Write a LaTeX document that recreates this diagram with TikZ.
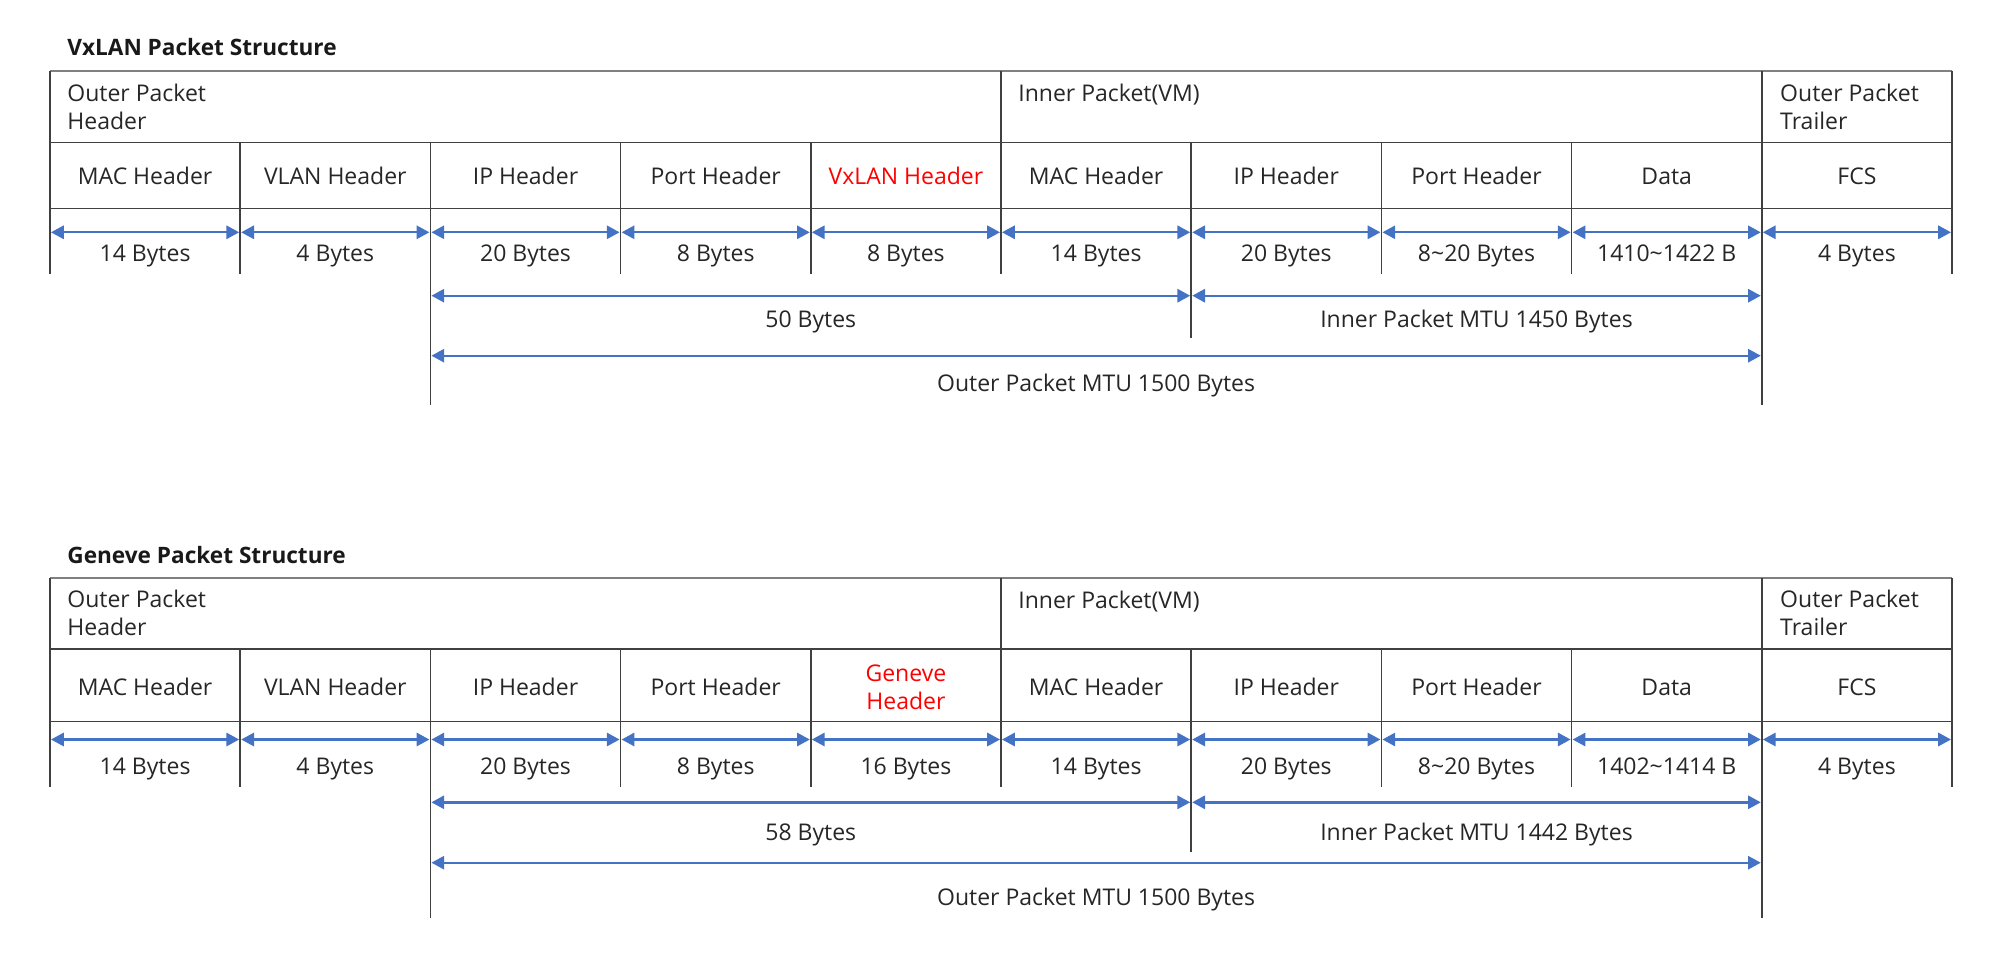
\documentclass[tikz,border=0pt]{standalone}
\usepackage{fontspec}
\setmainfont{Open Sans}
\usetikzlibrary{arrows.meta}
\definecolor{pktblue}{RGB}{68,114,196}
\definecolor{pktred}{RGB}{255,0,0}
\definecolor{pktgrid}{RGB}{64,64,64}

\begin{document}
\begin{tikzpicture}[x=0.5pt, y=-0.5pt,
    cellline/.style={pktgrid, line width=0.75pt},
    rimline/.style={gray, line width=1pt},
    sizearrow/.style={pktblue, line width=1.2pt,
        {Triangle[length=6.4pt,width=6.6pt]}-{Triangle[length=6.4pt,width=6.6pt]},
        shorten <=0.5pt, shorten >=0.5pt},
    lbl/.style={anchor=base, inner sep=0pt, text=black!85,
        font=\fontsize{11.5}{13.8}\selectfont},
    hdr/.style={lbl, anchor=base west, align=left},
    ttl/.style={anchor=base west, inner sep=0pt, text=black!90,
        font=\fontsize{11.3}{13.8}\selectfont\bfseries}]
    % Breite einer Spalte (10 Spalten ab x=50)
    \def\cw{190.2}

    \useasboundingbox (0,0) rectangle (2000,957);

    % ==========================================
    % OBERER BEREICH: VxLAN PAKET
    % ==========================================
    \node[ttl] (vxTitle) at (67,56) {VxLAN Packet Structure};

    % Tabellenlinien
    \draw[rimline] (50,70.7) -- (1952,70.7);
    \draw[cellline] (50,142.3) -- (1952,142.3);
    \draw[cellline] (50,208.3) -- (1952,208.3);
    \foreach \i in {0,5,10}
        \draw[cellline] ({50+\i*\cw},70.7) -- ({50+\i*\cw},274);
    \foreach \i in {1,3,4,7,8}
        \draw[cellline] ({50+\i*\cw},142.3) -- ({50+\i*\cw},274);
    \draw[cellline] ({50+2*\cw},142.3) -- ({50+2*\cw},405);
    \draw[cellline] ({50+6*\cw},142.3) -- ({50+6*\cw},338.3);
    \draw[cellline] ({50+9*\cw},70.7) -- ({50+9*\cw},405);

    % Kopfzeile (Basislinie = letzte Zeile)
    \node[hdr] (vxOuterHdr) at (67,129.3) {Outer Packet\\Header};
    \node[hdr] (vxInner) at ({50+5*\cw+17},101.7) {Inner Packet(VM)};
    \node[hdr] (vxTrailer) at ({50+9*\cw+18},129.3) {Outer Packet\\Trailer};

    % Felder und Groessen
    \foreach \name [count=\i from 0] in {MAC Header, VLAN Header, IP Header,
            Port Header, \textcolor{pktred}{VxLAN Header}, MAC Header,
            IP Header, Port Header, Data, FCS}
        \node[lbl] (vxField\i) at ({50+(\i+0.5)*\cw},185) {\name};
    \foreach \size [count=\i from 0] in {14 Bytes, 4 Bytes, 20 Bytes, 8 Bytes,
            8 Bytes, 14 Bytes, 20 Bytes, 8\textasciitilde20 Bytes,
            1410\textasciitilde1422 B, 4 Bytes}
        \node[lbl] (vxSize\i) at ({50+(\i+0.5)*\cw},261) {\size};

    % Masspfeile
    \foreach \i in {0,...,10}
        \coordinate (vxA\i) at ({50+\i*\cw},232.3);
    \foreach \i [evaluate=\i as \j using int(\i+1)] in {0,...,9}
        \draw[sizearrow] (vxA\i) -- (vxA\j);
    \coordinate (vxB2) at ({50+2*\cw},295.7);
    \coordinate (vxB6) at ({50+6*\cw},295.7);
    \coordinate (vxB9) at ({50+9*\cw},295.7);
    \draw[sizearrow] (vxB2) -- (vxB6);
    \draw[sizearrow] (vxB6) -- (vxB9);
    \coordinate (vxC2) at ({50+2*\cw},355.7);
    \coordinate (vxC9) at ({50+9*\cw},355.7);
    \draw[sizearrow] (vxC2) -- (vxC9);

    \node[lbl] (vxOverhead) at ({50+4*\cw},327.5) {50 Bytes};
    \node[lbl] (vxInnerMtu) at ({50+7.5*\cw},327.5) {Inner Packet MTU 1450 Bytes};
    \node[lbl] (vxOuterMtu) at ({50+5.5*\cw},391.7) {Outer Packet MTU 1500 Bytes};

    % ==========================================
    % UNTERER BEREICH: GENEVE PAKET
    % ==========================================
    \node[ttl] (gnTitle) at (67,563.3) {Geneve Packet Structure};

    % Tabellenlinien
    \draw[rimline] (50,577.7) -- (1952,577.7);
    \draw[cellline] (50,649) -- (1952,649);
    \draw[cellline] (50,721.7) -- (1952,721.7);
    \foreach \i in {0,5,10}
        \draw[cellline] ({50+\i*\cw},577.7) -- ({50+\i*\cw},787.3);
    \foreach \i in {1,3,4,7,8}
        \draw[cellline] ({50+\i*\cw},649) -- ({50+\i*\cw},787.3);
    \draw[cellline] ({50+2*\cw},649) -- ({50+2*\cw},918.3);
    \draw[cellline] ({50+6*\cw},649) -- ({50+6*\cw},852.2);
    \draw[cellline] ({50+9*\cw},577.7) -- ({50+9*\cw},918.3);

    % Kopfzeile (Basislinie = letzte Zeile)
    \node[hdr] (gnOuterHdr) at (67,635) {Outer Packet\\Header};
    \node[hdr] (gnInner) at ({50+5*\cw+17},608.3) {Inner Packet(VM)};
    \node[hdr] (gnTrailer) at ({50+9*\cw+18},635) {Outer Packet\\Trailer};

    % Felder und Groessen
    \foreach \name [count=\i from 0] in {MAC Header, VLAN Header, IP Header,
            Port Header, {}, MAC Header, IP Header, Port Header, Data, FCS}
        \node[lbl] (gnField\i) at ({50+(\i+0.5)*\cw},695) {\name};
    \node[lbl, align=center, text=pktred] (gnGeneve) at ({50+4.5*\cw},709)
        {Geneve\\Header};
    \foreach \size [count=\i from 0] in {14 Bytes, 4 Bytes, 20 Bytes, 8 Bytes,
            16 Bytes, 14 Bytes, 20 Bytes, 8\textasciitilde20 Bytes,
            1402\textasciitilde1414 B, 4 Bytes}
        \node[lbl] (gnSize\i) at ({50+(\i+0.5)*\cw},774.3) {\size};

    % Masspfeile
    \foreach \i in {0,...,10}
        \coordinate (gnA\i) at ({50+\i*\cw},739.5);
    \foreach \i [evaluate=\i as \j using int(\i+1)] in {0,...,9}
        \draw[sizearrow] (gnA\i) -- (gnA\j);
    \coordinate (gnB2) at ({50+2*\cw},802.3);
    \coordinate (gnB6) at ({50+6*\cw},802.3);
    \coordinate (gnB9) at ({50+9*\cw},802.3);
    \draw[sizearrow] (gnB2) -- (gnB6);
    \draw[sizearrow] (gnB6) -- (gnB9);
    \coordinate (gnC2) at ({50+2*\cw},862.7);
    \coordinate (gnC9) at ({50+9*\cw},862.7);
    \draw[sizearrow] (gnC2) -- (gnC9);

    \node[lbl] (gnOverhead) at ({50+4*\cw},840) {58 Bytes};
    \node[lbl] (gnInnerMtu) at ({50+7.5*\cw},840) {Inner Packet MTU 1442 Bytes};
    \node[lbl] (gnOuterMtu) at ({50+5.5*\cw},905) {Outer Packet MTU 1500 Bytes};

\end{tikzpicture}
\end{document}
